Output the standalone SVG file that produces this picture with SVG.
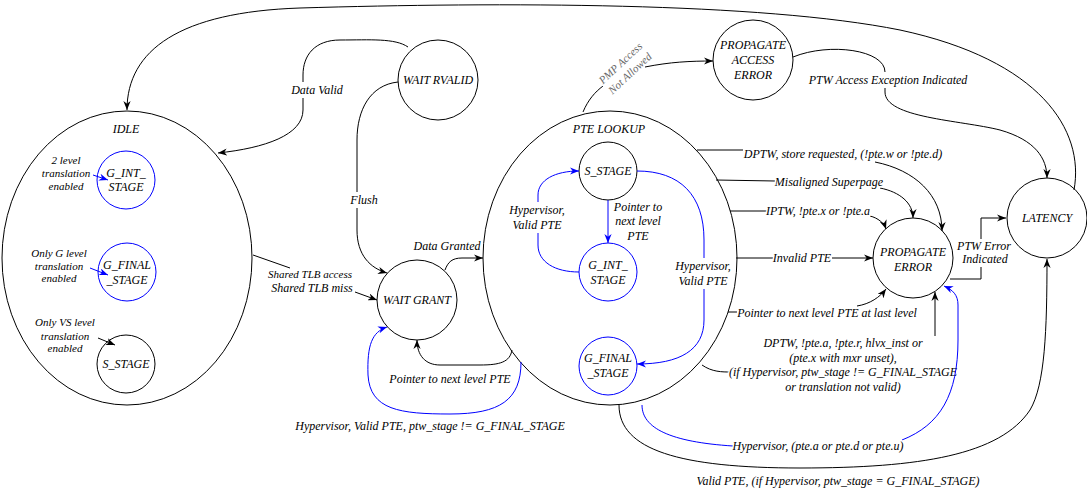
<svg xmlns="http://www.w3.org/2000/svg" width="1087" height="492" viewBox="0 0 1087 492" font-family="'Liberation Serif', serif" font-style="italic">
<style>
.n{fill:#fff;stroke:#000;stroke-width:1}
.nb{fill:#fff;stroke:#0000ff;stroke-width:1}
.c{fill:none;stroke:#000;stroke-width:1}
.cb{fill:none;stroke:#0000ff;stroke-width:1}
text{font-family:"Liberation Serif","Times New Roman",serif;font-style:italic;text-anchor:middle;dominant-baseline:central;fill:#000}
.s{font-size:12px}
.e{font-size:12px}
.i{font-size:11px}
.h{paint-order:stroke;stroke:#fff;stroke-width:3px;stroke-linejoin:round}
.g{fill:#666}
</style>
<defs>
<marker id="ak" viewBox="0 0 10 8" refX="10" refY="4" markerWidth="9" markerHeight="7.2" markerUnits="userSpaceOnUse" orient="auto"><path d="M0,0 L10,4 L0,8 L3,4 z" fill="#000"/></marker>
<marker id="ab" viewBox="0 0 10 8" refX="10" refY="4" markerWidth="9" markerHeight="7.2" markerUnits="userSpaceOnUse" orient="auto"><path d="M0,0 L10,4 L0,8 L3,4 z" fill="#0000ff"/></marker>
</defs>

<g id="idle">
<ellipse class="n" cx="127" cy="258" rx="125" ry="147"/>
<text class="s" x="126" y="129">IDLE</text>
</g>
<g id="idle_g_int_stage">
<circle class="nb" cx="126" cy="180" r="29"/>
<text class="s" x="126" y="173">G_INT_</text>
<text class="s" x="126" y="187">STAGE</text>
</g>
<g id="idle_g_final_stage">
<circle class="nb" cx="127" cy="272" r="29"/>
<text class="s" x="127" y="265">G_FINAL</text>
<text class="s" x="127" y="280">_STAGE</text>
</g>
<g id="idle_s_stage">
<circle class="n" cx="126" cy="364" r="29"/>
<text class="s" x="126" y="364">S_STAGE</text>
</g>
<g id="wait_rvalid">
<circle class="n" cx="438" cy="80" r="40"/>
<text class="s" x="438" y="80">WAIT RVALID</text>
</g>
<g id="wait_grant">
<circle class="n" cx="417" cy="300" r="40"/>
<text class="s" x="417" y="300">WAIT GRANT</text>
</g>
<g id="pte_lookup">
<ellipse class="n" cx="610" cy="258" rx="127" ry="147"/>
<text class="s" x="609" y="129">PTE LOOKUP</text>
</g>
<g id="pte_s_stage">
<circle class="n" cx="608" cy="171" r="29"/>
<text class="s" x="608" y="171">S_STAGE</text>
</g>
<g id="pte_g_int_stage">
<circle class="nb" cx="608" cy="272" r="29"/>
<text class="s" x="608" y="265">G_INT_</text>
<text class="s" x="608" y="280">STAGE</text>
</g>
<g id="pte_g_final_stage">
<circle class="nb" cx="608" cy="366" r="29"/>
<text class="s" x="608" y="358">G_FINAL</text>
<text class="s" x="608" y="373">_STAGE</text>
</g>
<g id="propagate_access_error">
<circle class="n" cx="753" cy="60" r="40"/>
<text class="s" x="753" y="45">PROPAGATE</text>
<text class="s" x="753" y="60">ACCESS</text>
<text class="s" x="753" y="75">ERROR</text>
</g>
<g id="propagate_error">
<circle class="n" cx="913" cy="258" r="40"/>
<text class="s" x="913" y="252">PROPAGATE</text>
<text class="s" x="913" y="267">ERROR</text>
</g>
<g id="latency">
<circle class="n" cx="1047" cy="218" r="40"/>
<text class="s" x="1047" y="218">LATENCY</text>
</g>

<g id="connectors">
<path class="c" d="M1074,190 C1085,130 1040,60 900,30 C760,2 500,2 300,8 C180,12 127,50 127,110" marker-end="url(#ak)"/>
<path class="c" d="M408,47 C395,38 370,40 340,40 C315,40 303,55 303,75 L303,82 M303,98 L303,110 C303,135 265,148 218,153" marker-end="url(#ak)"/>
<text class="e h" x="317" y="90">Data Valid</text>
<path class="c" d="M398,82 C370,85 357,110 357,140 L357,192 M357,208 L357,230 C357,255 370,268 387,273" marker-end="url(#ak)"/>
<text class="e h" x="364" y="200">Flush</text>
<path class="c" d="M253,255 L290,268 M355,292 L377,300" marker-end="url(#ak)"/>
<text class="i h" x="310" y="274">Shared TLB access</text>
<text class="s h" x="312" y="288">Shared TLB miss</text>
<path class="c" d="M445,270 C448,262 452,258 462,258 L483,258" marker-end="url(#ak)"/>
<text class="e h" x="447" y="246">Data Granted</text>
<path class="c" d="M512,350 C510,362 500,365 480,365 L440,365 C425,365 417,355 417,340" marker-end="url(#ak)"/>
<text class="e h" x="450" y="379">Pointer to next level PTE</text>
<path class="cb" d="M521,362 C521,400 500,414 450,414 C400,414 370,410 368,375 C367,345 372,332 387,327" marker-end="url(#ab)"/>
<text class="e h" x="430" y="426">Hypervisor, Valid PTE, ptw_stage != G_FINAL_STAGE</text>

<path class="c" d="M583,112 C588,100 595,92 603,86 M645,67 C670,62 690,61 713,61" marker-end="url(#ak)"/>
<g transform="translate(625,68) rotate(-43)">
<text class="i h g" x="0" y="-7">PMP Access</text>
<text class="i h g" x="0" y="7">Not Allowed</text>
</g>
<path class="c" d="M793,57 C830,42 885,50 885,72 M885,88 L885,92 C885,118 960,120 1000,130 C1035,140 1047,158 1047,178" marker-end="url(#ak)"/>
<text class="e h" x="888" y="80">PTW Access Exception Indicated</text>

<path class="c" d="M697,150 L743,150 M875,162 C915,170 942,195 942,231" marker-end="url(#ak)"/>
<text class="e h" x="843" y="154">DPTW, store requested, (!pte.w or !pte.d)</text>
<path class="c" d="M716,180 L775,181 M880,188 C900,192 913,203 913,218" marker-end="url(#ak)"/>
<text class="e h" x="829" y="182">Misaligned Superpage</text>
<path class="c" d="M730,211 L767,211 M870,216 C878,218 884,223 886,229" marker-end="url(#ak)"/>
<text class="e h" x="818" y="211">IPTW, !pte.x or !pte.a</text>
<path class="c" d="M736,258 L773,258 M832,258 L873,258" marker-end="url(#ak)"/>
<text class="e h" x="802" y="258">Invalid PTE</text>
<path class="c" d="M728,312 L737,312 M857,306 C870,304 880,297 886,289" marker-end="url(#ak)"/>
<text class="e h" x="827" y="313">Pointer to next level PTE at last level</text>
<path class="c" d="M702,365 C712,372 722,372 731,372"/>
<path class="c" d="M935,336 L935,292" marker-end="url(#ak)"/>
<text class="e h" x="843" y="343">DPTW, !pte.a, !pte.r, hlvx_inst or</text>
<text class="e h" x="843" y="358">(pte.x with mxr unset),</text>
<text class="e h" x="843" y="372">(if Hypervisor, ptw_stage != G_FINAL_STAGE</text>
<text class="e h" x="843" y="387">or translation not valid)</text>
<path class="cb" d="M642,405 C642,428 670,442 733,446"/>
<path class="cb" d="M902,440 C940,425 958,395 958,340 L958,305 C958,295 953,290 944,286" marker-end="url(#ab)"/>
<text class="e h" x="818" y="446">Hypervisor, (pte.a or pte.d or pte.u)</text>
<path class="c" d="M619,405 C619,450 680,468 800,468 C920,468 1000,455 1030,410 C1045,385 1047,330 1047,259" marker-end="url(#ak)"/>
<text class="e" x="838" y="481">Valid PTE, (if Hypervisor, ptw_stage = G_FINAL_STAGE)</text>
<path class="c" d="M950,279 L981,279 L981,267 M981,239 L981,218 L1006,218" marker-end="url(#ak)"/>
<text class="e h" x="984" y="246">PTW Error</text>
<text class="e h" x="985" y="259">Indicated</text>

<path class="cb" d="M608,200 L608,243" marker-end="url(#ab)"/>
<text class="e" x="638" y="207">Pointer to</text>
<text class="e" x="638" y="221">next level</text>
<text class="e" x="638" y="236">PTE</text>
<path class="cb" d="M579,272 C555,272 538,262 538,245 L538,233 M538,202 L538,195 C538,180 555,171 579,171" marker-end="url(#ab)"/>
<text class="e h" x="537" y="210">Hypervisor,</text>
<text class="e h" x="537" y="225">Valid PTE</text>
<path class="cb" d="M637,171 C680,171 704,195 704,240 L704,258 M704,289 L704,320 C704,350 680,364 637,364" marker-end="url(#ab)"/>
<text class="e h" x="703" y="266">Hypervisor,</text>
<text class="e h" x="703" y="281">Valid PTE</text>

<text class="i" x="66" y="160">2 level</text>
<text class="i" x="66" y="173">translation</text>
<text class="i" x="66" y="186">enabled</text>
<path class="cb" d="M93,175 L108,180" marker-end="url(#ab)"/>
<text class="i" x="59" y="253">Only G level</text>
<text class="i" x="59" y="266">translation</text>
<text class="i" x="59" y="278">enabled</text>
<path class="cb" d="M90,268 L108,275" marker-end="url(#ab)"/>
<text class="i" x="65" y="322">Only VS level</text>
<text class="i" x="65" y="336">translation</text>
<text class="i" x="65" y="348">enabled</text>
<path class="c" d="M98,338 L115,345" marker-end="url(#ak)"/>
</g>
</svg>
